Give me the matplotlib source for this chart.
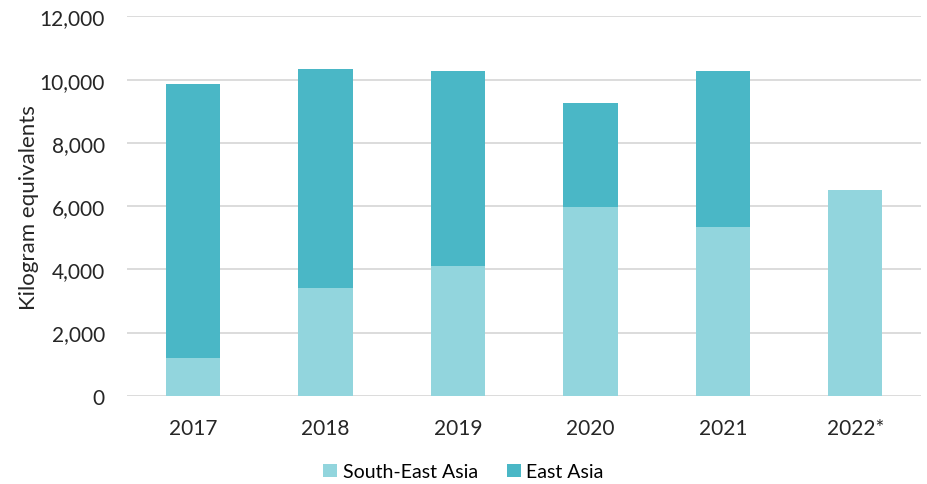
import numpy as np
import matplotlib.pyplot as plt
from matplotlib.ticker import FuncFormatter

years = ["2017", "2018", "2019", "2020", "2021", "2022*"]
south_east_asia = [1200, 3420, 4110, 5980, 5350, 6520]
east_asia = [8670, 6930, 6170, 3290, 4930, 0]

plt.rcParams['font.family'] = ['Lato', 'DejaVu Sans']

fig = plt.figure(figsize=(9.27, 4.85), dpi=100)
ax = fig.add_axes([0.137, 0.182, 0.857, 0.782])

x = np.arange(len(years))
ax.bar(x, south_east_asia, width=0.41, color="#92D5DD", label="South-East Asia", zorder=2)
ax.bar(x, east_asia, width=0.41, bottom=south_east_asia, color="#4AB7C6", label="East Asia", zorder=2)

ax.set_ylim(0, 12000)
ax.set_yticks(np.arange(0, 12001, 2000))
ax.yaxis.set_major_formatter(FuncFormatter(lambda v, p: f"{int(v):,}"))
ax.set_xticks(x)
ax.set_xticklabels(years)
ax.set_xlim(-0.5, len(years) - 0.5)
ax.grid(axis="y", color="#d9d9d9", linewidth=1.3, zorder=0)
ax.tick_params(axis="both", length=0, labelsize=15, colors="#262626")
ax.tick_params(axis="y", pad=16)
ax.tick_params(axis="x", pad=16)
for s in ax.spines.values():
    s.set_visible(False)
ax.set_ylabel("Kilogram equivalents", fontsize=16, color="#262626", labelpad=0)

fig.legend(loc="center", bbox_to_anchor=(0.5, 0.025), ncol=2, frameon=False,
           fontsize=14, handlelength=0.7, handleheight=0.7, columnspacing=1.5, handletextpad=0.3)

fig.savefig("out.png", dpi=100)
